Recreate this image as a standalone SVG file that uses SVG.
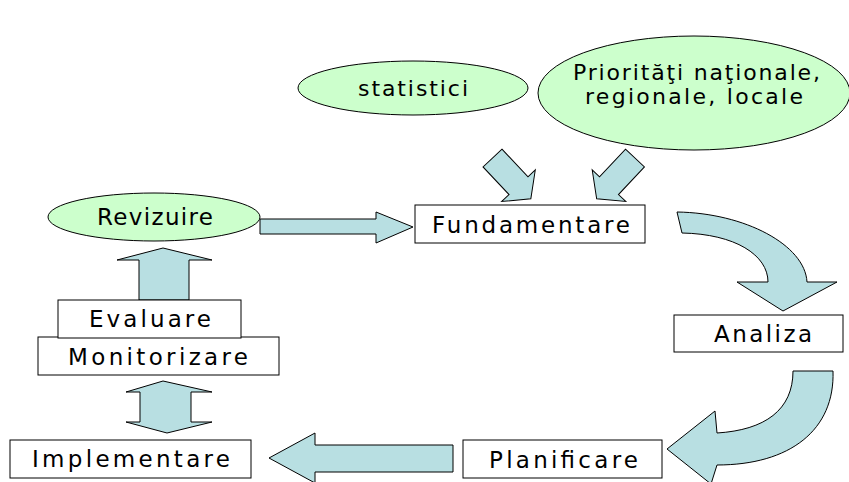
<svg xmlns="http://www.w3.org/2000/svg" width="849" height="482" viewBox="0 0 849 482">
<style>
.box{fill:#ffffff;stroke:#000000;stroke-width:1}
.ell{fill:#ccffcc;stroke:#000000;stroke-width:1}
.arr{fill:#b8dfe2;stroke:#000000;stroke-width:1;stroke-linejoin:miter}
.t{font-family:"DejaVu Sans","Liberation Sans",sans-serif;font-size:23px;fill:#000000}
.s{font-size:22px}
</style>
<rect x="0" y="0" width="849" height="482" fill="#ffffff"/>
<g id="connectors">
<polygon class="arr" transform="translate(492.5,158) rotate(46.8)" points="0,-13 38,-13 38,-23 56,0 38,23 38,13 0,13"/>
<polygon class="arr" transform="translate(635,158) rotate(133.2)" points="0,-13 38,-13 38,-23 56,0 38,23 38,13 0,13"/>
<polygon class="arr" points="260,219 376,219 376,212 413,227 376,243 376,234 260,234"/>
<polygon class="arr" points="139,300 139,260 117,260 163,248 212,260 189,260 189,300"/>
<polygon class="arr" points="163,381 212,392 191,392 191,422 212,422 167,433 126,422 140,422 140,392 126,392"/>
<polygon class="arr" points="453,445 315,445 315,433 269,458 315,483 315,472 453,472"/>
<path class="arr" d="M677,212 C745,213 805,245 807,282 L837,282 L783,311 L737,282 L768,282 C768,255 735,234 682,233 Z"/>
<path class="arr" d="M793,371 L833,371 C835,430 790,465 717,465 L711,484 L667,449 L715,411 L717,433 C765,430 793,410 793,371 Z"/>
</g>
<g id="statistici">
<ellipse class="ell" cx="413" cy="88" rx="115" ry="27"/>
<text class="t s" x="358" y="96" textLength="110" lengthAdjust="spacing">statistici</text>
</g>
<g id="prioritati">
<ellipse class="ell" cx="694" cy="93" rx="156" ry="57"/>
<text class="t s" x="573" y="80" textLength="247" lengthAdjust="spacing">Priorităţi naţionale,</text>
<text class="t s" x="585" y="104" textLength="218" lengthAdjust="spacing">regionale, locale</text>
</g>
<g id="fundamentare">
<rect class="box" x="415" y="205" width="230" height="38"/>
<text class="t" x="432" y="233" textLength="198" lengthAdjust="spacing">Fundamentare</text>
</g>
<g id="analiza">
<rect class="box" x="674" y="315" width="169" height="37"/>
<text class="t" x="714" y="342" textLength="98" lengthAdjust="spacing">Analiza</text>
</g>
<g id="planificare">
<rect class="box" x="463" y="440" width="199" height="38"/>
<text class="t" x="489" y="468" textLength="149" lengthAdjust="spacing">Planificare</text>
</g>
<g id="implementare">
<rect class="box" x="10" y="440" width="241" height="38"/>
<text class="t" x="32" y="467" textLength="198" lengthAdjust="spacing">Implementare</text>
</g>
<g id="monitorizare">
<rect class="box" x="38" y="337" width="241" height="38"/>
<text class="t" x="68" y="365" textLength="180" lengthAdjust="spacing">Monitorizare</text>
</g>
<g id="evaluare">
<rect class="box" x="58" y="300" width="183" height="38"/>
<text class="t" x="89" y="327" textLength="122" lengthAdjust="spacing">Evaluare</text>
</g>
<g id="revizuire">
<ellipse class="ell" cx="154" cy="217" rx="106" ry="24"/>
<text class="t" x="97" y="225" textLength="116" lengthAdjust="spacing">Revizuire</text>
</g>
</svg>
